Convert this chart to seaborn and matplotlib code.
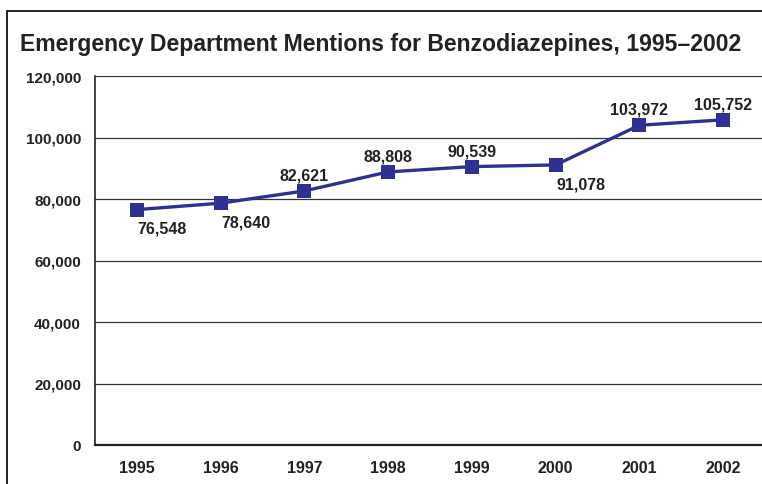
import matplotlib
matplotlib.use("Agg")
import matplotlib.pyplot as plt
import matplotlib.patches as patches
import matplotlib.ticker as mticker
import seaborn as sns
import pandas as pd

sns.set_style("white")
plt.rcParams['font.family'] = ['Liberation Sans', 'DejaVu Sans']

# data
years = ["1995", "1996", "1997", "1998", "1999", "2000", "2001", "2002"]
mentions = [76548, 78640, 82621, 88808, 90539, 91078, 103972, 105752]
# where the value label sits relative to the point
label_side = ["below", "below", "above", "above", "above", "below", "above", "above"]

df = pd.DataFrame({"year": years, "mentions": mentions})
df["pos"] = range(len(years))

line_color = "#2E3192"
text_color = "#222222"

fig = plt.figure(figsize=(7.62, 4.85), dpi=100)
ax = fig.add_axes([95 / 762, 1 - 446 / 485, 670 / 762, (446 - 77) / 485])

sns.lineplot(data=df, x="pos", y="mentions", ax=ax, color=line_color,
             linewidth=2.4, marker="s", markersize=9.5, markeredgewidth=0,
             zorder=3)

ax.set_xlim(-0.5, len(years) - 0.5)
ax.set_ylim(0, 120000)
ax.yaxis.set_major_locator(mticker.MultipleLocator(20000))
ax.yaxis.set_major_formatter(mticker.FuncFormatter(lambda v, p: f"{int(v):,}"))
ax.grid(axis="y", color="#333333", linewidth=0.9)
ax.set_axisbelow(True)

ax.set_xticks(df["pos"])
ax.set_xticklabels(years)
ax.set_xticks([i - 0.5 for i in range(len(years) + 1)], minor=True)
ax.tick_params(axis="x", which="major", length=0, pad=11, labelsize=11.5,
               colors=text_color)
ax.tick_params(axis="x", which="minor", length=6, width=1, color="#222222",
               direction="out")
ax.tick_params(axis="y", length=6, width=1, color="#222222", direction="out",
               labelsize=11, pad=4, colors=text_color)
for lbl in ax.get_xticklabels() + ax.get_yticklabels():
    lbl.set_fontweight("bold")

for side in ["top", "right"]:
    ax.spines[side].set_visible(False)
ax.spines["left"].set_color("#222222")
ax.spines["bottom"].set_color("#222222")
ax.spines["left"].set_linewidth(1.2)
ax.spines["bottom"].set_linewidth(1.6)
ax.set_xlabel("")
ax.set_ylabel("")

for x, y, side in zip(df["pos"], df["mentions"], label_side):
    if side == "above":
        off = (0, 6)
        va = "bottom"
    else:
        off = (18, -8)
        va = "top"
    ax.annotate(f"{y:,}", (x, y), xytext=off, textcoords="offset points",
                ha="center", va=va, fontsize=11.5, fontweight="bold",
                color=text_color)

fig.text(20 / 762, 1 - 45 / 485,
         "Emergency Department Mentions for Benzodiazepines, 1995\u20132002",
         ha="left", va="center", fontsize=16.6, fontweight="bold",
         color=text_color)

frame = patches.Rectangle((7 / 762, -0.1), 1.0, (485 - 12) / 485 + 0.1,
                          transform=fig.transFigure, fill=False,
                          edgecolor="#222222", linewidth=1.4, clip_on=False)
fig.patches.append(frame)

fig.savefig("out.png", dpi=100)
